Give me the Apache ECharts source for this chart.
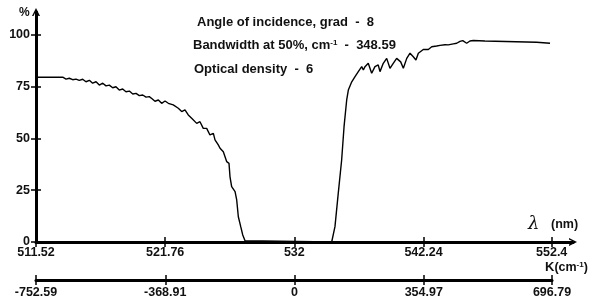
<!DOCTYPE html>
<html><head><meta charset="utf-8">
<script src="https://cdn.jsdelivr.net/npm/echarts@6/dist/echarts.min.js"></script>
<style>html,body{margin:0;padding:0;background:#fff}#c{width:592px;height:302px}</style>
</head><body><div id="c"></div>
<script>
// ---- data ----
const lambdaTicks = [511.52, 521.76, 532, 542.24, 552.4];
const lambdaLabels = ['511.52', '521.76', '532', '542.24', '552.4'];
const kLabels = ['-752.59', '-368.91', '0', '354.97', '696.79'];
const yTicks = [0, 25, 50, 75, 100];
const wavelength = [
  511.52, 513.64, 513.90, 514.16, 514.43, 514.69, 514.95, 515.22, 515.48, 515.75,
  516.01, 516.28, 516.54, 516.81, 517.07, 517.33, 517.60, 517.86, 518.12, 518.39,
  518.65, 518.92, 519.19, 519.45, 519.71, 519.98, 520.24, 520.50, 520.72, 520.95,
  521.22, 521.48, 521.75, 522.01, 522.40, 522.80, 523.07, 523.33, 523.59, 523.86,
  523.99, 524.26, 524.52, 524.78, 525.05, 525.31, 525.58, 525.71, 525.97, 526.11,
  526.37, 526.64, 526.82, 526.90, 527.03, 527.30, 527.43, 527.56, 527.75, 527.91,
  528.09, 528.22, 534.96, 535.22, 535.48, 535.75, 535.94, 536.15, 536.28, 536.55,
  536.81, 537.07, 537.34, 537.47, 537.60, 537.86, 538.13, 538.39, 538.65, 538.79,
  539.05, 539.32, 539.58, 539.84, 540.11, 540.24, 540.43, 540.64, 540.91, 541.17,
  541.43, 541.64, 541.83, 542.22, 542.62, 542.89, 543.28, 543.55, 543.94, 544.20,
  544.60, 544.87, 545.13, 545.35, 545.66, 545.92, 546.19, 547.11, 547.25, 551.21,
  551.34, 552.27
];
const transmission = [
  79.6, 79.6, 78.7, 79.1, 78.4, 78.7, 78.1, 78.6, 77.4, 78.1,
  76.7, 77.4, 75.8, 76.7, 75.4, 75.8, 74.5, 75.0, 73.4, 73.9,
  72.6, 72.9, 71.5, 71.8, 70.7, 71.0, 70.0, 70.2, 69.2, 68.0,
  68.6, 67.0, 68.1, 67.0, 66.2, 64.6, 63.0, 63.8, 61.4, 59.8,
  60.5, 57.3, 58.1, 54.9, 54.9, 51.7, 52.5, 49.3, 46.9, 45.3,
  43.6, 38.8, 38.0, 31.5, 26.7, 24.3, 20.3, 12.2, 7.4, 3.4,
  0.6, 0.0, 0.0, 7.4, 23.5, 39.6, 55.7, 68.6, 73.4, 77.4,
  79.9, 82.3, 84.7, 83.1, 84.7, 86.3, 81.5, 84.7, 85.5, 82.3,
  86.3, 88.7, 83.9, 86.3, 88.7, 89.5, 87.0, 83.9, 88.7, 91.2,
  89.5, 87.9, 91.2, 93.0, 93.0, 94.3, 94.7, 95.0, 95.3, 95.2,
  95.7, 96.0, 96.9, 97.3, 96.0, 97.1, 97.3, 97.1, 96.6, 96.5,
  96.0, 96.0
];
const annotations = [
  'Angle of incidence, grad  -  8',
  'Bandwidth at 50%, cm{sup|-1}  -  348.59',
  'Optical density  -  6'
];

// ---- chart ----
const FONT = "'Liberation Sans',Arial,sans-serif";
const chevron = 'path://M0,8 L4,0 L8,8 L6.5,8 L4,3 L1.5,8 Z';
const labelStyle = {color: '#111', fontFamily: FONT, fontWeight: 'bold', fontSize: 12.5};
const chart = echarts.init(document.getElementById('c'), null, {renderer: 'canvas'});

const lamMin = 511.52, lamMax = 554.09;
function xAx(grid, max, inside, extra) {
  return Object.assign({
    type: 'value', gridIndex: grid, min: lamMin, max: max, position: 'bottom',
    splitLine: {show: false},
    axisTick: {show: true, inside: inside, length: 5, customValues: lambdaTicks,
      lineStyle: {color: '#000', width: 1.5}},
    axisLabel: {show: false}, axisLine: {show: false}
  }, extra);
}

chart.setOption({
  animation: false,
  backgroundColor: '#fff',
  grid: [
    {left: 36, right: 19, top: 12, bottom: 60},
    {left: 36, right: 40, top: 279, height: 1}
  ],
  xAxis: [
    xAx(0, lamMax, false, {
      axisLine: {show: true, symbol: ['none', chevron], symbolSize: [9, 8],
        lineStyle: {color: '#000', width: 3}},
      axisLabel: Object.assign({show: true, margin: 4, customValues: lambdaTicks,
        formatter: v => lambdaLabels[lambdaTicks.indexOf(v)] ?? ''}, labelStyle)
    }),
    xAx(0, lamMax, true, {}),
    xAx(1, 552.4, false, {
      axisLine: {show: true, lineStyle: {color: '#000', width: 3}},
      axisLabel: Object.assign({show: true, margin: 6, customValues: lambdaTicks,
        formatter: v => kLabels[lambdaTicks.indexOf(v)] ?? ''}, labelStyle)
    }),
    xAx(1, 552.4, true, {})
  ],
  yAxis: [
    {type: 'value', gridIndex: 0, position: 'left', min: 0, max: 111.1, splitLine: {show: false},
      axisLine: {show: true, symbol: ['none', chevron], symbolSize: [9, 8],
        lineStyle: {color: '#000', width: 3}},
      axisTick: {show: true, length: 5, customValues: yTicks, lineStyle: {color: '#000', width: 1.5}},
      axisLabel: Object.assign({margin: 6, customValues: yTicks}, labelStyle)},
    {type: 'value', gridIndex: 0, position: 'left', min: 0, max: 111.1, splitLine: {show: false},
      axisLine: {show: false}, axisLabel: {show: false},
      axisTick: {show: true, inside: true, length: 5, customValues: yTicks, lineStyle: {color: '#000', width: 1.5}}},
    {type: 'value', gridIndex: 1, show: false}
  ],
  series: [{
    type: 'line', xAxisIndex: 0, yAxisIndex: 0, showSymbol: false, z: 1,
    lineStyle: {color: '#000', width: 1.4}, data: wavelength.map((l, i) => [l, transmission[i]])
  }],
  graphic: [
    {type: 'text', left: 19, top: 7, style: {text: '%', font: "bold 12px " + FONT, fill: '#111'}},
    {type: 'text', left: 197, top: 16, style: {text: annotations[0], font: "bold 13px " + FONT, fill: '#111'}},
    {type: 'text', left: 193, top: 39, style: {text: annotations[1], font: "bold 13px " + FONT, fill: '#111',
      rich: {sup: {fontSize: 8, fontWeight: 'bold', fontFamily: FONT, verticalAlign: 'top', fill: '#111'}}}},
    {type: 'text', left: 194, top: 63, style: {text: annotations[2], font: "bold 13px " + FONT, fill: '#111'}},
    {type: 'text', left: 528, top: 215, style: {text: 'λ', font: "italic 18px 'DejaVu Serif'", fill: '#111'}},
    {type: 'text', left: 551, top: 218, style: {text: '(nm)', font: "bold 12.5px " + FONT, fill: '#111'}},
    {type: 'text', left: 545, top: 261, style: {text: 'K{s|(cm}{sup|-1}{s|)}', font: "bold 13px " + FONT, fill: '#111',
      rich: {s: {fontSize: 12.5, fontWeight: 'bold', fontFamily: FONT},
             sup: {fontSize: 8, fontWeight: 'bold', fontFamily: FONT, verticalAlign: 'top'}}}}
  ]
});
</script></body></html>
